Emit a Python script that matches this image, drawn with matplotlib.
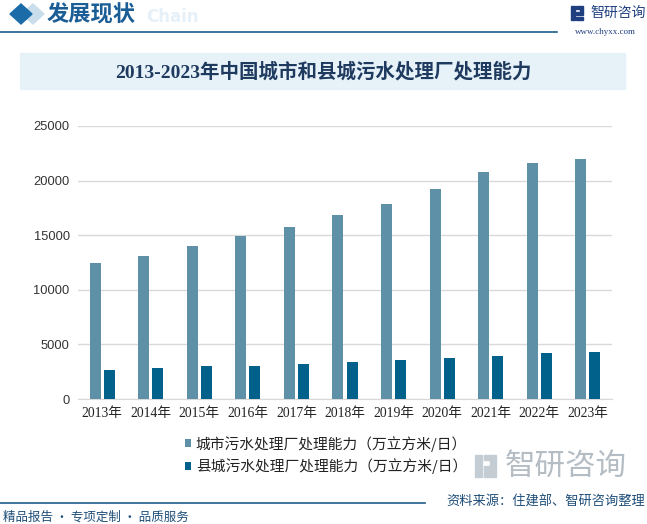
import numpy as np
import matplotlib.pyplot as plt
from matplotlib.patches import Rectangle, Polygon

plt.rcParams['font.family'] = ['Noto Sans CJK SC', 'DejaVu Sans']

# 数据
years = ['2013年', '2014年', '2015年', '2016年', '2017年', '2018年',
         '2019年', '2020年', '2021年', '2022年', '2023年']
city = [12454, 13087, 14028, 14910, 15743, 16881, 17863, 19267, 20767, 21606, 21980]
county = [2691, 2882, 2999, 3036, 3218, 3367, 3587, 3770, 3979, 4185, 4282]
city_label = '城市污水处理厂处理能力（万立方米/日）'
county_label = '县城污水处理厂处理能力（万立方米/日）'
yticks = [0, 5000, 10000, 15000, 20000, 25000]

W, H = 647, 524
fig = plt.figure(figsize=(W / 100, H / 100), dpi=100)

def fx(px):
    return px / W

def fy(py):
    return 1 - py / H

# 页眉
fig.patches.append(Polygon([[fx(22), fy(14)], [fx(33), fy(4)], [fx(44), fy(14)], [fx(33), fy(24)]],
                           closed=True, transform=fig.transFigure, color='#C9DDEB', zorder=1))
fig.patches.append(Polygon([[fx(10), fy(14)], [fx(21), fy(4)], [fx(32), fy(14)], [fx(21), fy(24)]],
                           closed=True, transform=fig.transFigure, color='#1A6BA8', zorder=2))
fig.text(fx(146), fy(17), 'Chain', fontsize=12, fontweight='bold', color='#E6F0F8',
         family=['DejaVu Sans'], va='center', ha='left', zorder=1)
fig.text(fx(47), fy(15), '发展现状', fontsize=16, fontweight='bold', color='#1B5E96',
         va='center', ha='left', zorder=3)
fig.add_artist(plt.Line2D([0, fx(557)], [fy(32), fy(32)], color='#1F5C8A', lw=1.2))

# 右上角logo
for (x0, y0, w, h) in [(571, 6, 4, 14), (576, 6, 7, 3), (580, 9, 3, 3), (576, 12, 7, 3), (576, 17, 7, 3)]:
    fig.patches.append(Rectangle((fx(x0), fy(y0 + h)), w / W, h / H, transform=fig.transFigure,
                                 color='#1F3F80', zorder=2))
fig.text(fx(590), fy(13), '智研咨询', fontsize=10, color='#1F3F80', va='center', ha='left')
fig.text(fx(605), fy(32), 'www.chyxx.com', fontsize=6.5, color='#1F3F80',
         family=['Liberation Serif'], va='center', ha='center')

# 标题栏
fig.patches.append(Rectangle((fx(20), fy(89)), 605 / W, 36 / H, transform=fig.transFigure,
                             color='#E6F1F8', zorder=0))
fig.text(fx(323), fy(72), '2013-2023年中国城市和县城污水处理厂处理能力', fontsize=14,
         fontweight='bold', color='#1F3A5F', family=['Liberation Serif', 'Noto Sans CJK SC'],
         va='center', ha='center')

# 主图
ax = fig.add_axes([fx(78), fy(399), (612 - 78) / W, (399 - 126) / H])
x = np.arange(len(years))
bw = 0.227
b1 = ax.bar(x - 0.145, city, width=bw, color='#5E90A8', label=city_label, zorder=3)
b2 = ax.bar(x + 0.145, county, width=bw, color='#02618A', label=county_label, zorder=3)
ax.set_xlim(-0.5, len(years) - 0.5)
ax.set_ylim(0, 25000)
ax.set_yticks(yticks)
ax.set_yticklabels([str(v) for v in yticks], family=['Liberation Sans'], fontsize=9.3, color='#333333')
ax.set_xticks(x)
ax.set_xticklabels(years, family=['Liberation Serif', 'Noto Sans CJK SC'], fontsize=9.8, color='#222222')
ax.tick_params(length=0, pad=6)
ax.grid(axis='y', color='#D9D9D9', lw=1, zorder=0)
for s in ['top', 'right', 'left']:
    ax.spines[s].set_visible(False)
ax.spines['bottom'].set_color('#D9D9D9')
ax.set_facecolor('none')

fig.legend(handles=[b1, b2], loc='center', bbox_to_anchor=(fx(326), fy(455)), frameon=False,
           fontsize=10.6, handlelength=0.45, handleheight=0.45, handletextpad=0.3,
           labelspacing=0.45, labelcolor='#222222')

# 右下角水印logo
fig.text(fx(505), fy(466), '智研咨询', fontsize=22, color='#B4BCC4', va='center', ha='left', zorder=0)
for (x0, y0, w, h) in [(475, 455, 7, 22), (484, 455, 12, 5), (490, 460, 6, 6), (484, 466, 12, 5), (484, 472, 12, 5)]:
    fig.patches.append(Rectangle((fx(x0), fy(y0 + h)), w / W, h / H, transform=fig.transFigure,
                                 color='#C4CCD4', zorder=0))

# 页脚
fig.add_artist(plt.Line2D([0, fx(425)], [fy(503), fy(503)], color='#1F5C8A', lw=1.2))
fig.text(fx(3), fy(517), '精品报告 · 专项定制 · 品质服务', fontsize=9, color='#1F4E79',
         va='center', ha='left')
fig.text(fx(645), fy(502), '资料来源：住建部、智研咨询整理', fontsize=9.5, color='#1F4E79',
         va='center', ha='right')

fig.savefig('out.png', dpi=100)
